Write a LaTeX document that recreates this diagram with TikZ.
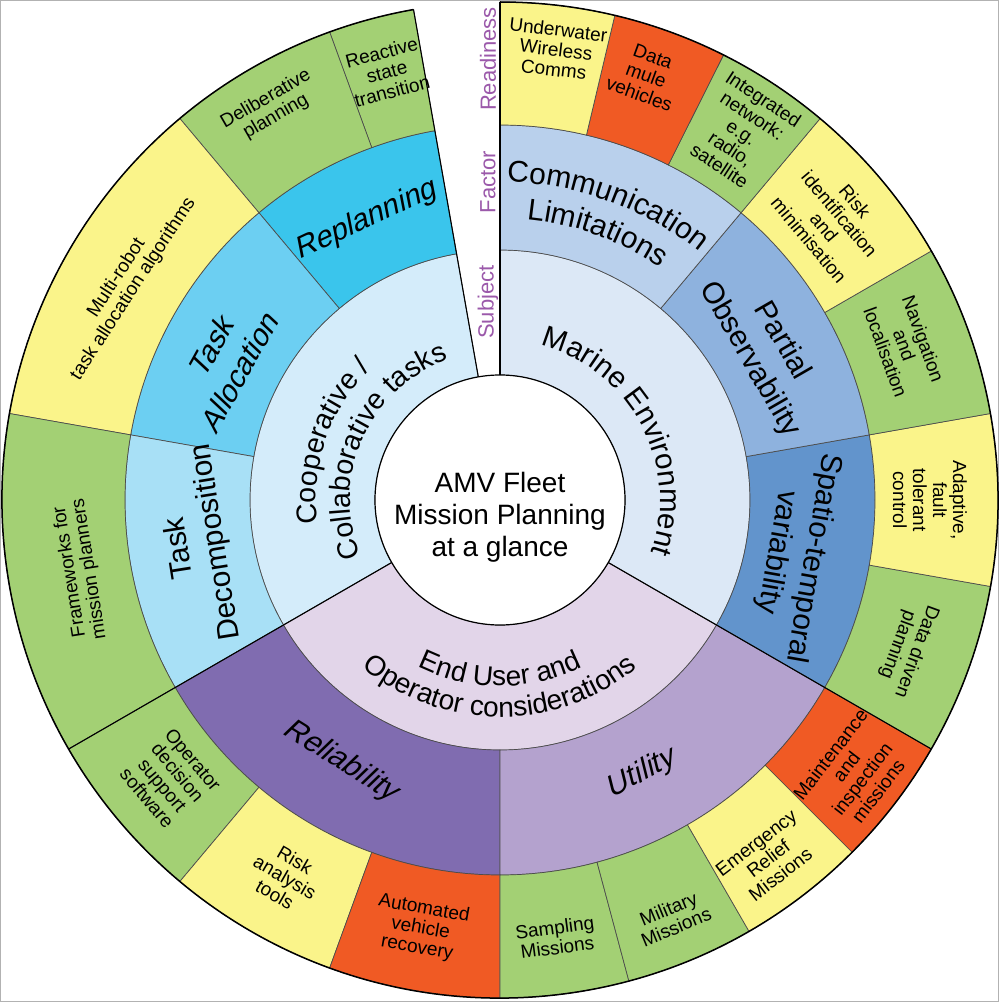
\documentclass[tikz,border=0pt]{standalone}
\usepackage{fontspec}
\setmainfont{Liberation Sans}
\usetikzlibrary{decorations.text}
\definecolor{rgreen}{HTML}{A3D074}
\definecolor{ryellow}{HTML}{FAF48A}
\definecolor{rorange}{HTML}{F05A24}
\definecolor{coopS}{HTML}{D4ECFA}
\definecolor{replanC}{HTML}{3AC5EC}
\definecolor{allocC}{HTML}{6CCFF2}
\definecolor{decompC}{HTML}{A8E0F6}
\definecolor{marineS}{HTML}{DCE8F6}
\definecolor{commC}{HTML}{B9D0EC}
\definecolor{partialC}{HTML}{8EB2DE}
\definecolor{spatioC}{HTML}{6294CC}
\definecolor{userS}{HTML}{E2D5E9}
\definecolor{reliabC}{HTML}{806CB0}
\definecolor{utilC}{HTML}{B4A2CE}
\definecolor{labpurple}{HTML}{9B59AA}
\newcommand\wedgeseg[5]{%
  \filldraw[seg, fill=#5] (#3:#1pt) arc[start angle=#3, end angle=#4, radius=#1pt]
    -- (#4:#2pt) arc[start angle=#4, end angle=#3, radius=#2pt] -- cycle;}
\tikzset{
  seg/.style={draw=black!70, line width=0.7pt},
  mainline/.style={draw=black, line width=1.1pt},
  rlabel/.style={font=\fontsize{19}{20}\selectfont, align=center, inner sep=0pt},
  flabel/.style={font=\fontsize{30}{37}\selectfont, align=center, inner sep=0pt},
  leaning/.style={xslant=0.25},
  axislabel/.style={font=\fontsize{22}{24}\selectfont, text=labpurple, rotate=90, inner sep=0pt},
}
\begin{document}
\begin{tikzpicture}[x=1pt,y=1pt]
\useasboundingbox (-500,-502) rectangle (499,500);
\fill[white] (-500,-502) rectangle (499,500);
\draw[black!30, line width=1.5pt] (-499.25,-501.25) rectangle (498.25,499.25);
% subject ring
\wedgeseg{125}{250}{100}{210}{coopS}
\wedgeseg{125}{250}{210}{330}{userS}
\wedgeseg{125}{250}{330}{450}{marineS}
% factor ring
\wedgeseg{250}{375}{100}{130}{replanC}
\wedgeseg{250}{375}{130}{170}{allocC}
\wedgeseg{250}{375}{170}{210}{decompC}
\wedgeseg{250}{375}{210}{270}{reliabC}
\wedgeseg{250}{375}{270}{330}{utilC}
\wedgeseg{250}{375}{330}{370}{spatioC}
\wedgeseg{250}{375}{370}{410}{partialC}
\wedgeseg{250}{375}{410}{450}{commC}
% readiness ring
\wedgeseg{375}{498}{100}{110}{rgreen}
\wedgeseg{375}{498}{110}{130}{rgreen}
\wedgeseg{375}{498}{130}{170}{ryellow}
\wedgeseg{375}{498}{170}{210}{rgreen}
\wedgeseg{375}{498}{210}{230}{rgreen}
\wedgeseg{375}{498}{230}{250}{ryellow}
\wedgeseg{375}{498}{250}{270}{rorange}
\wedgeseg{375}{498}{270}{285}{rgreen}
\wedgeseg{375}{498}{285}{300}{rgreen}
\wedgeseg{375}{498}{300}{315}{ryellow}
\wedgeseg{375}{498}{315}{330}{rorange}
\wedgeseg{375}{498}{330}{350}{rgreen}
\wedgeseg{375}{498}{350}{370}{ryellow}
\wedgeseg{375}{498}{370}{390}{rgreen}
\wedgeseg{375}{498}{390}{410}{ryellow}
\wedgeseg{375}{498}{410}{423.33}{rgreen}
\wedgeseg{375}{498}{423.33}{436.67}{rorange}
\wedgeseg{375}{498}{436.67}{450}{ryellow}
% main separators and outline
\draw[mainline] (100:125pt) -- (100:498pt);
\draw[mainline] (90:125pt) -- (90:498pt);
\draw[mainline] (210:125pt) -- (210:498pt);
\draw[mainline] (330:125pt) -- (330:498pt);
\draw[black, line width=1.5pt] (100:498pt) arc[start angle=100, end angle=450, radius=498pt];
% centre
\node[circle, draw=black, line width=1.2pt, fill=white, minimum size=250pt, inner sep=0pt] (hub) at (0,0) {};
\node[align=center, inner sep=0pt, font=\fontsize{28}{32}\selectfont] (title) at (0,-17) {AMV Fleet\\Mission Planning\\at a glance};
% axis labels in the gap
\node[axislabel] (lsubject) at (-12,198) {Subject};
\node[axislabel] (lfactor) at (-12,318) {Factor};
\node[axislabel] (lready) at (-12,441) {Readiness};
% curved subject texts
\path[decorate, decoration={text along path, text align=center, text={|\fontsize{28.5}{33}\selectfont|Cooperative /}}]
  (216:184pt) arc[start angle=216, end angle=106, radius=184pt];
\path[decorate, decoration={text along path, text align=center, text={|\fontsize{28.5}{33}\selectfont|Collaborative tasks}}]
  (211:150pt) arc[start angle=211, end angle=101, radius=150pt];
\path[decorate, decoration={text along path, text align=center, text={|\fontsize{29.5}{33}\selectfont|Marine Environment}}]
  (448:160pt) arc[start angle=448, end angle=328, radius=160pt];
\path[decorate, decoration={text along path, text align=center, text={|\fontsize{28}{33}\selectfont|End User and}}]
  (210:186pt) arc[start angle=210, end angle=330, radius=186pt];
\path[decorate, decoration={text along path, text align=center, text={|\fontsize{28}{33}\selectfont|Operator considerations}}]
  (210:217pt) arc[start angle=210, end angle=330, radius=217pt];
\path[decorate, decoration={text along path, text align=center, text={|\fontsize{30}{36}\selectfont|Communication}}]
  (465:318pt) arc[start angle=465, end angle=395, radius=318pt];
\path[decorate, decoration={text along path, text align=center, text={|\fontsize{30}{36}\selectfont|Limitations}}]
  (465:282pt) arc[start angle=465, end angle=395, radius=282pt];
% factor labels
\node[flabel, rotate=25, leaning] (freplan) at (115.4:310) {Replanning};
\node[flabel, rotate=61, leaning] (falloc) at (152.6:309) {Task\\Allocation};
\node[flabel, rotate=99] (fdecomp) at (188.5:305) {Task\\Decomposition};
\node[flabel, rotate=-32, leaning] (freliab) at (238.9:306) {Reliability};
\node[flabel, rotate=28, leaning] (futil) at (297.5:308) {Utility};
\node[flabel, rotate=-100] (fspatio) at (-10.6:300) {Spatio-temporal\\variability};
\node[flabel, rotate=-60] (fpartial) at (29.4:305) {Partial\\Observability};
% readiness labels
\node[rlabel, rotate=15] (r1) at (104.8:443) {Reactive\\state\\transition};
\node[rlabel, rotate=30] (r2) at (120.3:454) {Deliberative\\planning};
\node[rlabel, rotate=57] (r3) at (150:433) {Multi-robot\\task allocation algorithms};
\node[rlabel, rotate=99] (r4) at (189.5:426) {Frameworks for\\mission planners};
\node[rlabel, rotate=-50] (r5) at (220.2:432) {Operator\\decision\\support\\software};
\node[rlabel, rotate=-30] (r6) at (240.3:434) {Risk\\analysis\\tools};
\node[rlabel, rotate=-10] (r7) at (259.5:436) {Automated\\vehicle\\recovery};
\node[rlabel, rotate=7.5] (r8) at (277.3:441) {Sampling\\Missions};
\node[rlabel, rotate=22.5] (r9) at (292.4:452) {Military\\Missions};
\node[rlabel, rotate=37.5] (r10) at (306.8:448) {Emergency\\Relief\\Missions};
\node[rlabel, rotate=52.5] (r11) at (322.4:447) {Maintenance\\and\\inspection\\missions};
\node[rlabel, rotate=-110] (r12) at (340:433) {Data driven\\planning};
\node[rlabel, rotate=-90] (r13) at (0:430) {Adaptive,\\fault\\tolerant\\control};
\node[rlabel, rotate=-70] (r14) at (20.9:433) {Navigation\\and\\localisation};
\node[rlabel, rotate=-50] (r15) at (40.1:434) {Risk\\identification\\and\\minimisation};
\node[rlabel, rotate=-33.3] (r16) at (56.7:440) {Integrated\\network:\\e.g.\\radio,\\satellite};
\node[rlabel, rotate=-20] (r17) at (71:449) {Data\\mule\\vehicles};
\node[rlabel, rotate=-6.7] (r18) at (82.9:454) {Underwater\\Wireless\\Comms};
\end{tikzpicture}
\end{document}
